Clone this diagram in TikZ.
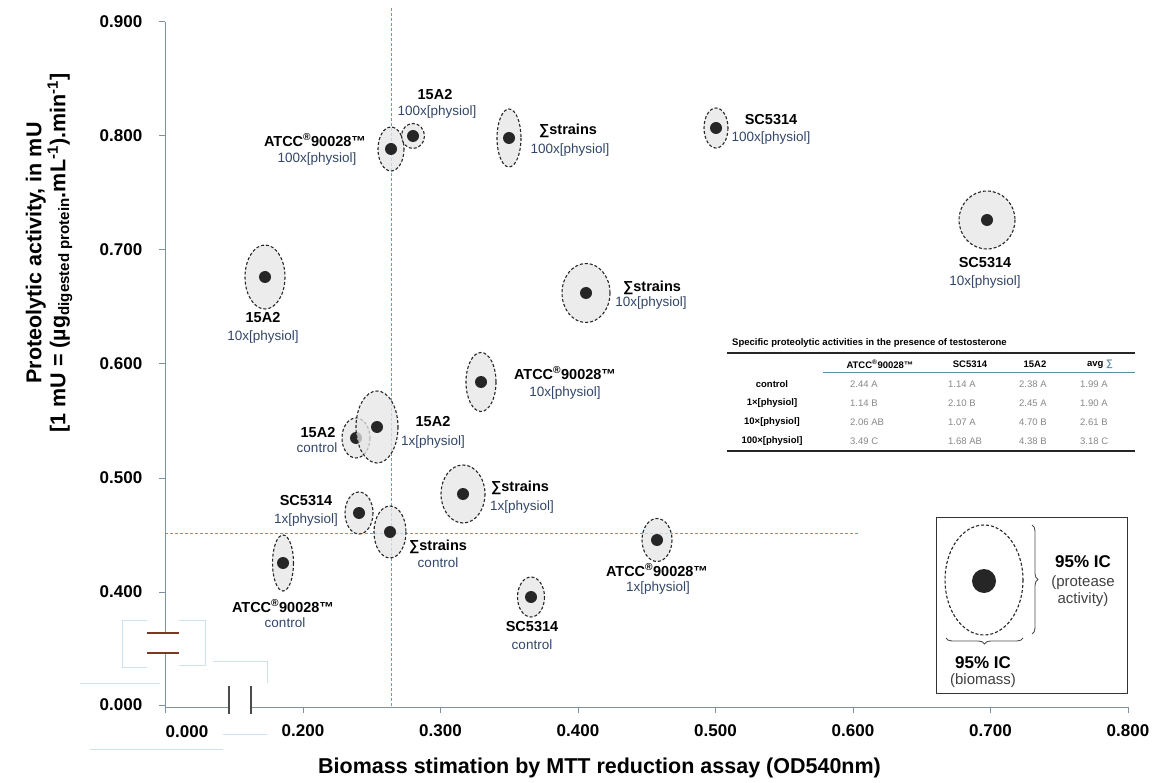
\documentclass[tikz,border=0pt]{standalone}
\usepackage{fontspec}
\setmainfont{Liberation Sans}
\usetikzlibrary{decorations.pathreplacing}

\definecolor{axisgray}{RGB}{125,145,165}
\definecolor{refblue}{RGB}{90,160,215}
\definecolor{doseblue}{RGB}{50,70,105}
\definecolor{breakred}{RGB}{125,55,35}
\definecolor{valgray}{RGB}{135,135,135}
\definecolor{ruleteal}{RGB}{95,140,160}
\definecolor{faintblue}{RGB}{205,225,240}

\newcommand{\atccname}{ATCC\textsuperscript{®}90028™}

\begin{document}
\begin{tikzpicture}[x=1pt, y=-1pt,
    ci/.style={draw=black!85, densely dashed, line width=1.1pt, fill=black!10, fill opacity=0.75},
    dot/.style={circle, fill=black!85, inner sep=0pt, minimum size=12pt},
    strain/.style={font=\bfseries\fontsize{14.5}{16}\selectfont, inner sep=0pt},
    dose/.style={font=\fontsize{13.5}{15}\selectfont, text=doseblue, inner sep=0pt},
    ticklab/.style={font=\bfseries\fontsize{17}{19}\selectfont, inner sep=0pt},
    axtitle/.style={font=\bfseries\fontsize{21.5}{24}\selectfont, inner sep=0pt},
    axisline/.style={draw=axisgray, line width=1pt},
    refline/.style={draw=refblue, line width=1pt, dash pattern=on 3pt off 2pt},
    tabhead/.style={font=\bfseries\fontsize{9.5}{11}\selectfont, inner sep=0pt},
    tabval/.style={font=\fontsize{9.5}{11}\selectfont, text=valgray, inner sep=0pt, anchor=west},
    faint/.style={draw=faintblue, line width=0.7pt},
]
    \useasboundingbox (0,0) rectangle (1157,783);

    % masking boxes left round the axis breaks
    \draw[faint] (147,620) -- (122,620) -- (122,667) -- (147,667);
    \draw[faint] (179,620) -- (205,620) -- (205,665) -- (179,665);
    \draw[faint] (213,661) -- (267,661) -- (267,683);
    \draw[faint] (80,683) -- (160,683);
    \draw[faint] (223,734) -- (267,734);
    \draw[faint] (90,749) -- (223,749);

    % mean lines
    \draw[refline] (391,8) -- (391,707);
    \draw[refline] (165,533) -- (860,533);

    % axes with breaks
    \draw[axisline] (165,22) -- (165,633) (165,653) -- (165,707) -- (229,707) (251,707) -- (1128,707);
    \draw[breakred, line width=1.3pt] (147,633) -- (179,633) (147,653) -- (179,653);
    \draw[black!70, line width=1.3pt] (229,686) -- (229,714) (251,686) -- (251,714);

    % y ticks
    \foreach \v/\py [count=\i] in {0.900/22, 0.800/136, 0.700/250, 0.600/364, 0.500/478, 0.400/592, 0.000/705} {
        \draw[axisline] (159,\py) -- (165,\py);
        \node[ticklab] (ytick\i) at (121,\py) {\v};
    }
    % x ticks
    \draw[axisline] (165,707) -- (165,713);
    \node[ticklab] (xtick0) at (187,732) {0.000};
    \foreach \v/\px [count=\i] in {0.200/303, 0.300/440.5, 0.400/578, 0.500/715.5, 0.600/853, 0.700/990.5, 0.800/1128} {
        \draw[axisline] (\px,707) -- (\px,713);
        \node[ticklab] (xtick\i) at (\px,731) {\v};
    }

    % axis titles
    \node[axtitle, anchor=west] (xtitle) at (318,768) {Biomass stimation by MTT reduction assay (OD540nm)};
    \node[axtitle, rotate=90, align=center] (ytitle) at (49,253)
        {Proteolytic activity, in mU\\{[}1 mU = (µg\textsubscript{digested protein}.mL\textsuperscript{-1}).min\textsuperscript{-1}]};

    % confidence ellipses and means
    \foreach \n/\x/\y/\rx/\ry in {a100/391/149/13/22, f100/413/136/11.5/12.5, s100/509/138/12/29,
        sc100/716/128/12/20, sc10/987/220/28/29, f10/265/277/20/32, s10/586/293/24/29.5,
        a10/481/382/15/29.5, fc/356/438/14/20, f1/377/427/21/36, s1/463/494/22/29,
        sc1/359/513/14/21, sc/390/532/16/26, ac/283/563/10.5/28, scc/531/597/13.5/20, a1/657/540/15/21.5} {
        \draw[ci] (\x,\y) ellipse [x radius=\rx, y radius=\ry];
        \node[dot] (\n) at (\x,\y) {};
    }

    % labels
    \node[strain] (a100name) at (315,140) {\atccname};
    \node[dose] (a100dose) at (317,159) {100x[physiol]};
    \node[strain] (f100name) at (435,95) {15A2};
    \node[dose] (f100dose) at (437,112) {100x[physiol]};
    \node[strain] (s100name) at (568,131) {∑strains};
    \node[dose] (s100dose) at (570,150) {100x[physiol]};
    \node[strain] (sc100name) at (771,120) {SC5314};
    \node[dose] (sc100dose) at (771,138) {100x[physiol]};
    \node[strain] (sc10name) at (985,263) {SC5314};
    \node[dose] (sc10dose) at (985,282) {10x[physiol]};
    \node[strain] (f10name) at (263,318) {15A2};
    \node[dose] (f10dose) at (263,337) {10x[physiol]};
    \node[strain] (s10name) at (652,288) {∑strains};
    \node[dose] (s10dose) at (651,303) {10x[physiol]};
    \node[strain] (a10name) at (565,373) {\atccname};
    \node[dose] (a10dose) at (565,393) {10x[physiol]};
    \node[strain] (f1name) at (433,422) {15A2};
    \node[dose] (f1dose) at (433,442) {1x[physiol]};
    \node[strain] (fcname) at (318,433) {15A2};
    \node[dose] (fcdose) at (317,448) {control};
    \node[strain] (s1name) at (520,488) {∑strains};
    \node[dose] (s1dose) at (522,507) {1x[physiol]};
    \node[strain] (sc1name) at (306,501) {SC5314};
    \node[dose] (sc1dose) at (306,520) {1x[physiol]};
    \node[strain] (scname) at (438,547) {∑strains};
    \node[dose] (scdose) at (438,563) {control};
    \node[strain] (acname) at (283,606) {\atccname};
    \node[dose] (acdose) at (285,623) {control};
    \node[strain] (sccname) at (532,627) {SC5314};
    \node[dose] (sccdose) at (532,645) {control};
    \node[strain] (a1name) at (657,570) {\atccname};
    \node[dose] (a1dose) at (658,588) {1x[physiol]};

    % table of specific activities
    \node[tabhead, anchor=west] (tabtitle) at (732,343) {Specific proteolytic activities in the presence of testosterone};
    \draw[black!85, line width=1.8pt] (727,353) -- (1135,353);
    \node[tabhead] (hatcc) at (880,364) {\atccname};
    \node[tabhead] (hsc) at (970,364) {SC5314};
    \node[tabhead] (hfa) at (1035,364) {15A2};
    \node[tabhead] (havg) at (1100,364) {avg \textcolor{ruleteal}{∑}};
    \draw[ruleteal, line width=1pt] (823,373) -- (1135,373);
    \foreach \r/\py/\va/\vb/\vc/\vd in {control/384/2.44 A/1.14 A/2.38 A/1.99 A,
        1×[physiol]/403/1.14 B/2.10 B/2.45 A/1.90 A,
        10×[physiol]/422/2.06 AB/1.07 A/4.70 B/2.61 B,
        100×[physiol]/441/3.49 C/1.68 AB/4.38 B/3.18 C} {
        \node[tabhead] (row\py) at (772,\py) {\r};
        \node[tabval] (va\py) at (850,\py) {\va};
        \node[tabval] (vb\py) at (948,\py) {\vb};
        \node[tabval] (vc\py) at (1019,\py) {\vc};
        \node[tabval] (vd\py) at (1080,\py) {\vd};
    }
    \draw[black!85, line width=2.4pt] (727,451) -- (1135,451);

    % legend
    \node[draw=black!80, line width=1pt, minimum width=191pt, minimum height=176pt, inner sep=0pt] (legbox) at (1031.5,605) {};
    \draw[draw=black!85, densely dashed, line width=1.1pt, fill=white] (984,580) ellipse [x radius=39, y radius=55];
    \node[dot, minimum size=24pt] (legdot) at (984,581) {};
    \draw[black!70, line width=0.9pt, decorate, decoration={brace, amplitude=6pt}] (1032,525) -- (1032,634);
    \draw[black!70, line width=0.9pt, decorate, decoration={brace, amplitude=6pt}] (1023,638) -- (946,638);
    \node[strain, font=\bfseries\fontsize{17}{19}\selectfont] (icprot) at (1083,562) {95\% IC};
    \node[dose, text=black!75, font=\fontsize{15}{17}\selectfont, align=center] (protnote) at (1083,591) {(protease\\activity)};
    \node[strain, font=\bfseries\fontsize{17}{19}\selectfont] (icbio) at (983,663) {95\% IC};
    \node[dose, text=black!75, font=\fontsize{15}{17}\selectfont] (bionote) at (983,681) {(biomass)};
\end{tikzpicture}
\end{document}
